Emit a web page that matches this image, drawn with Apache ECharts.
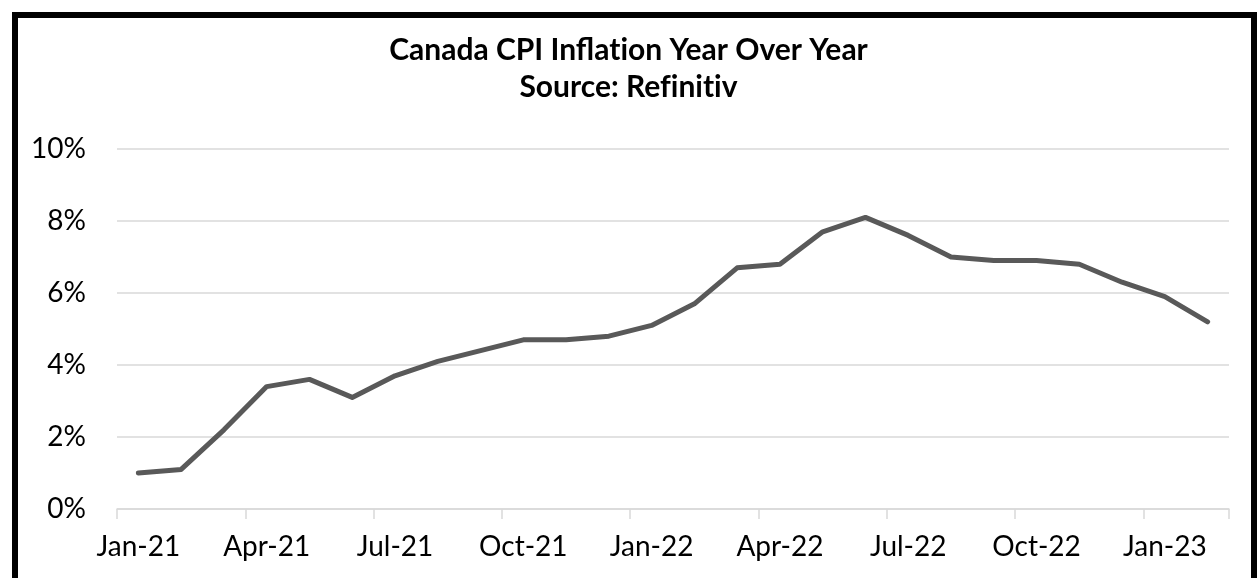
<!DOCTYPE html>
<html>
<head>
<meta charset="utf-8">
<script src="https://cdn.jsdelivr.net/npm/echarts@6/dist/echarts.min.js"></script>
<style>
  html, body { margin: 0; padding: 0; background: #fff; overflow: hidden; }
  #chart { position: absolute; left: 0; top: 0; width: 1257px; height: 578px; }
  .frame {
    position: absolute; left: 12px; top: 12px;
    width: 1233px; height: 600px;
    border: 6px solid #000; pointer-events: none;
  }
</style>
</head>
<body>
<div id="chart"></div>
<div class="frame"></div>
<script>
// 月份
const months = [
  'Jan-21', 'Feb-21', 'Mar-21', 'Apr-21', 'May-21', 'Jun-21',
  'Jul-21', 'Aug-21', 'Sep-21', 'Oct-21', 'Nov-21', 'Dec-21',
  'Jan-22', 'Feb-22', 'Mar-22', 'Apr-22', 'May-22', 'Jun-22',
  'Jul-22', 'Aug-22', 'Sep-22', 'Oct-22', 'Nov-22', 'Dec-22',
  'Jan-23', 'Feb-23'
]

// CPI 同比 (%)
const cpiYoY = [
  1.0, 1.1, 2.2, 3.4, 3.6, 3.1,
  3.7, 4.1, 4.4, 4.7, 4.7, 4.8,
  5.1, 5.7, 6.7, 6.8, 7.7, 8.1,
  7.6, 7.0, 6.9, 6.9, 6.8, 6.3,
  5.9, 5.2
]

const yMin = 0
const yMax = 10
const yStep = 2

const font = 'Lato, Carlito, "Open Sans", sans-serif'

// 用零宽非连接符避免 Lato 的 "ti" 连字
const noLig = s => s.replace(/ti/g, 't\u200Ci').replace(/fi/g, 'f\u200Ci')

const chart = echarts.init(document.getElementById('chart'))

const option = {
  animation: false,
  backgroundColor: '#fff',
  title: {
    text: noLig('Canada CPI Inflation Year Over Year') + '\n' + noLig('Source: Refinitiv'),
    left: 'center',
    top: 27,
    textStyle: {
      fontFamily: font,
      fontWeight: 'bold',
      fontSize: 30,
      lineHeight: 37,
      color: '#000'
    }
  },
  grid: {
    left: 117,
    right: 28,
    top: 149,
    bottom: 69,
    containLabel: false
  },
  xAxis: {
    type: 'category',
    data: months,
    boundaryGap: true,
    axisLine: { lineStyle: { color: '#d9d9d9', width: 1.5 } },
    axisTick: {
      show: true,
      interval: 2,
      length: 10,
      lineStyle: { color: '#d9d9d9', width: 1.5 }
    },
    axisLabel: {
      interval: 2,
      margin: 24,
      fontFamily: font,
      fontSize: 28,
      color: '#000'
    },
    splitLine: { show: false }
  },
  yAxis: {
    type: 'value',
    min: yMin,
    max: yMax,
    interval: yStep,
    axisLine: { show: false },
    axisTick: { show: false },
    axisLabel: {
      formatter: '{value}%',
      margin: 31,
      fontFamily: font,
      fontSize: 28,
      color: '#000'
    },
    splitLine: { lineStyle: { color: '#d9d9d9', width: 1.5 } }
  },
  series: [
    {
      name: 'CPI YoY',
      type: 'line',
      data: cpiYoY,
      symbol: 'none',
      smooth: false,
      lineStyle: { color: '#595959', width: 5, cap: 'round', join: 'round' }
    }
  ]
}

chart.setOption(option)
</script>
</body>
</html>
